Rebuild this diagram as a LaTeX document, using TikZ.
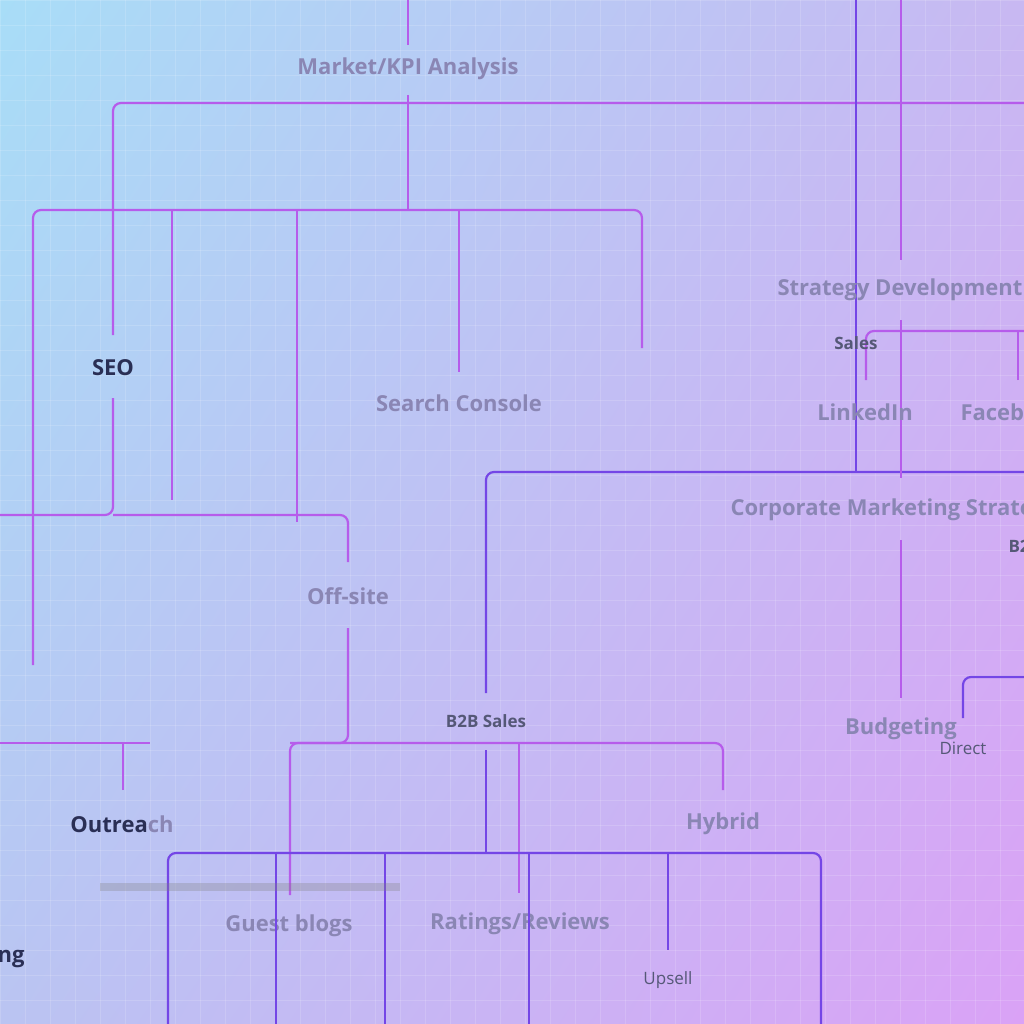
\documentclass[tikz,border=0pt]{standalone}
\usepackage{fontspec}
\setmainfont{Open Sans}
\usetikzlibrary{positioning,shadings}
\definecolor{pinkline}{HTML}{B65CEB}
\definecolor{violetline}{HTML}{7446E6}
\definecolor{fadetext}{HTML}{8A86B4}
\definecolor{darktext}{HTML}{2A2F55}
\definecolor{bgul}{HTML}{A8DDF7}
\definecolor{bgur}{HTML}{C8B8F2}
\definecolor{bgll}{HTML}{BAC4F2}
\definecolor{bglr}{HTML}{DAA2F6}
\begin{document}
\begin{tikzpicture}[x=1pt,y=-1pt,
  pk/.style={draw=pinkline,line width=2.2pt,rounded corners=8pt},
  vl/.style={draw=violetline,line width=2.2pt,rounded corners=8pt},
  big/.style={font=\bfseries\fontsize{22}{25}\selectfont,text=fadetext},
  bigdark/.style={font=\bfseries\fontsize{22}{25}\selectfont,text=darktext},
  small/.style={font=\bfseries\fontsize{17}{20}\selectfont,text=darktext!80},
  thin/.style={font=\fontsize{17}{20}\selectfont,text=darktext!80}]
\useasboundingbox (0,0) rectangle (1024,1024);
\clip (0,0) rectangle (1024,1024);
\shade[upper left=bgul,upper right=bgur,lower left=bgll,lower right=bglr]
  (0,0) rectangle (1024,1024);
\foreach \g in {0,25,...,1025} {
  \draw[white,opacity=0.15] (\g,0) -- (\g,1024);
  \draw[white,opacity=0.15] (0,\g) -- (1024,\g);
}
% pink tree
\draw[pk] (408,0) -- (408,45);
\node[big] (kpi) at (408,69) {Market/KPI Analysis};
\draw[pk] (408,95) -- (408,210);
\draw[pk] (33,665) -- (33,210) -- (642,210) -- (642,348);
\foreach \x/\y in {172/500,297/522,459/372}
  \draw[pk,rounded corners=0] (\x,210) -- (\x,\y);
\draw[pk] (113,335) -- (113,103) -- (1024,103);
\node[bigdark] (seo) at (113,368) {SEO};
\draw[pk] (113,398) -- (113,515) -- (0,515);
\draw[pk] (113,515) -- (348,515) -- (348,562);
\node[big] (off) at (348,596) {Off-site};
\draw[pk] (348,628) -- (348,743) -- (290,743);
\draw[pk] (0,743) -- (150,743);
\draw[pk] (123,790) -- (123,743);
\draw[pk] (290,895) -- (290,743) -- (723,743) -- (723,790);
\draw[pk,rounded corners=0] (519,743) -- (519,893);
\node[font=\bfseries\fontsize{22}{25}\selectfont] (outr) at (122,824) {\textcolor{darktext}{Outrea}\textcolor{fadetext}{ch}};
\node[big] (hyb) at (723,824) {Hybrid};
\node[big] (guest) at (289,926) {Guest blogs};
\node[big] (rate) at (520,924) {Ratings/Reviews};
\node[big] (sc) at (459,403) {Search Console};
% violet tree
\draw[vl] (856,0) -- (856,462);
\draw[vl] (486,693) -- (486,472) -- (1024,472);
\draw[vl] (856,372) -- (856,472);
\node[small] (b2b) at (486,721) {B2B Sales};
\draw[vl] (486,750) -- (486,853);
\draw[vl] (168,1024) -- (168,853) -- (821,853) -- (821,1024);
\foreach \x/\y in {276/1024,385/1024,529/1024,668/950}
  \draw[vl,rounded corners=0] (\x,853) -- (\x,\y);
\node[thin] (ups) at (668,980) {Upsell};
% right side
\draw[pk] (901,0) -- (901,260);
\node[big,anchor=west] (strat) at (774,290) {Strategy Development};
\draw[pk,rounded corners=0] (901,320) -- (901,478);
\draw[pk] (866,380) -- (866,331) -- (1024,331);
\draw[pk] (1018,380) -- (1018,331);
\node[small] (sales) at (856,343) {Sales};
\node[big] (li) at (865,412) {LinkedIn};
\node[big,anchor=west] (fb) at (957,412) {Facebook};
\node[big,anchor=west] (corp) at (727,510) {Corporate Marketing Strategy};
\node[small,anchor=west] (bx) at (1005,546) {B2C};
\draw[pk] (901,540) -- (901,698);
\node[big] (bud) at (901,729) {Budgeting};
\draw[vl] (963,718) -- (963,677) -- (1024,677);
\node[thin] (dir) at (963,748) {Direct};
\node[bigdark,anchor=east] (ng) at (28,957) {Marketing};
\fill[gray,opacity=0.3] (100,883) rectangle (400,891);
\end{tikzpicture}
\end{document}
